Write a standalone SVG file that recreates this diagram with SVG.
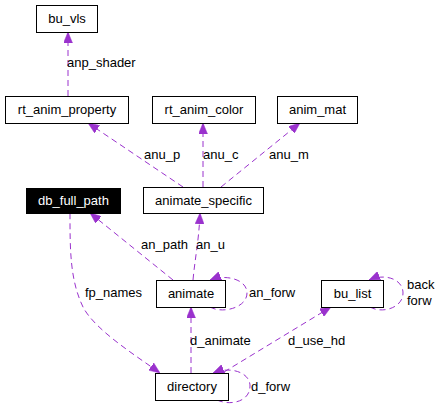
<svg xmlns="http://www.w3.org/2000/svg" width="441" height="413" viewBox="0 0 441 413">
<style>
  .box { fill: #ffffff; stroke: #000000; stroke-width: 1; }
  .box.dark { fill: #000000; }
  .nt { font-family: "Liberation Sans", Arial, sans-serif; font-size: 13px; text-anchor: middle; fill: #000000; }
  .nt.dark { fill: #ffffff; }
  .el { font-family: "Liberation Sans", Arial, sans-serif; font-size: 13px; fill: #000000; }
  .edge { fill: none; stroke: #9a32cd; stroke-width: 1; stroke-dasharray: 6,4; marker-end: url(#arrow); }
</style>
<defs>
  <marker id="arrow" markerUnits="userSpaceOnUse" markerWidth="11" markerHeight="9" refX="11" refY="4.5" orient="auto">
    <path d="M0,0 L11,4.5 L0,9 z" fill="#9a32cd" stroke="#9a32cd" stroke-width="0.5"/>
  </marker>
</defs>
<rect width="441" height="413" fill="#ffffff"/>
<g id="edges">
  <path class="edge" d="M68,96 L68,32"/>
  <path class="edge" d="M183,187 L88,123"/>
  <path class="edge" d="M203,187 L203,123"/>
  <path class="edge" d="M221,187 L300,123"/>
  <path class="edge" d="M193,280 C195,258 199,240 200,213"/>
  <path class="edge" d="M173,280 L90,213"/>
  <path class="edge" d="M210,307 C222,314 247,308 247,293 C247,279 225,274 210,280"/>
  <path class="edge" d="M191,373 L191,307"/>
  <path class="edge" d="M70,213 C70,250 70,280 83,307 C95,330 135,355 160,373"/>
  <path class="edge" d="M224,372 L331,307"/>
  <path class="edge" d="M217,400 C230,406 250,402 250,386 C250,372 230,366 213,373"/>
  <path class="edge" d="M370,307 C382,314 403,308 403,293 C403,279 385,273 369,280"/>
  <text class="el" x="67" y="67">anp_shader</text>
  <text class="el" x="144" y="159">anu_p</text>
  <text class="el" x="203" y="159">anu_c</text>
  <text class="el" x="269" y="159">anu_m</text>
  <text class="el" x="141" y="249">an_path</text>
  <text class="el" x="196" y="249">an_u</text>
  <text class="el" x="249" y="297">an_forw</text>
  <text class="el" x="85" y="297">fp_names</text>
  <text class="el" x="190" y="345">d_animate</text>
  <text class="el" x="288" y="345">d_use_hd</text>
  <text class="el" x="251" y="391">d_forw</text>
  <text class="el" x="407" y="289">back</text>
  <text class="el" x="407" y="305">forw</text>
</g>
<g id="bu_vls"><rect class="box" x="36.5" y="5.5" width="61" height="27"/><text class="nt" x="67" y="23">bu_vls</text></g>
<g id="rt_anim_property"><rect class="box" x="5.5" y="96.5" width="123" height="27"/><text class="nt" x="67" y="114">rt_anim_property</text></g>
<g id="rt_anim_color"><rect class="box" x="152.5" y="96.5" width="103" height="27"/><text class="nt" x="204" y="114">rt_anim_color</text></g>
<g id="anim_mat"><rect class="box" x="277.5" y="96.5" width="80" height="27"/><text class="nt" x="317.5" y="114">anim_mat</text></g>
<g id="animate_specific"><rect class="box" x="143.5" y="187.5" width="120" height="26"/><text class="nt" x="203.5" y="205">animate_specific</text></g>
<g id="db_full_path"><rect class="box dark" x="26.5" y="188.5" width="94" height="25"/><text class="nt dark" x="73.5" y="205">db_full_path</text></g>
<g id="animate"><rect class="box" x="156.5" y="280.5" width="69" height="27"/><text class="nt" x="191" y="298">animate</text></g>
<g id="directory"><rect class="box" x="155.5" y="373.5" width="73" height="27"/><text class="nt" x="192" y="391">directory</text></g>
<g id="bu_list"><rect class="box" x="321.5" y="280.5" width="62" height="27"/><text class="nt" x="352.5" y="298">bu_list</text></g>
</svg>
